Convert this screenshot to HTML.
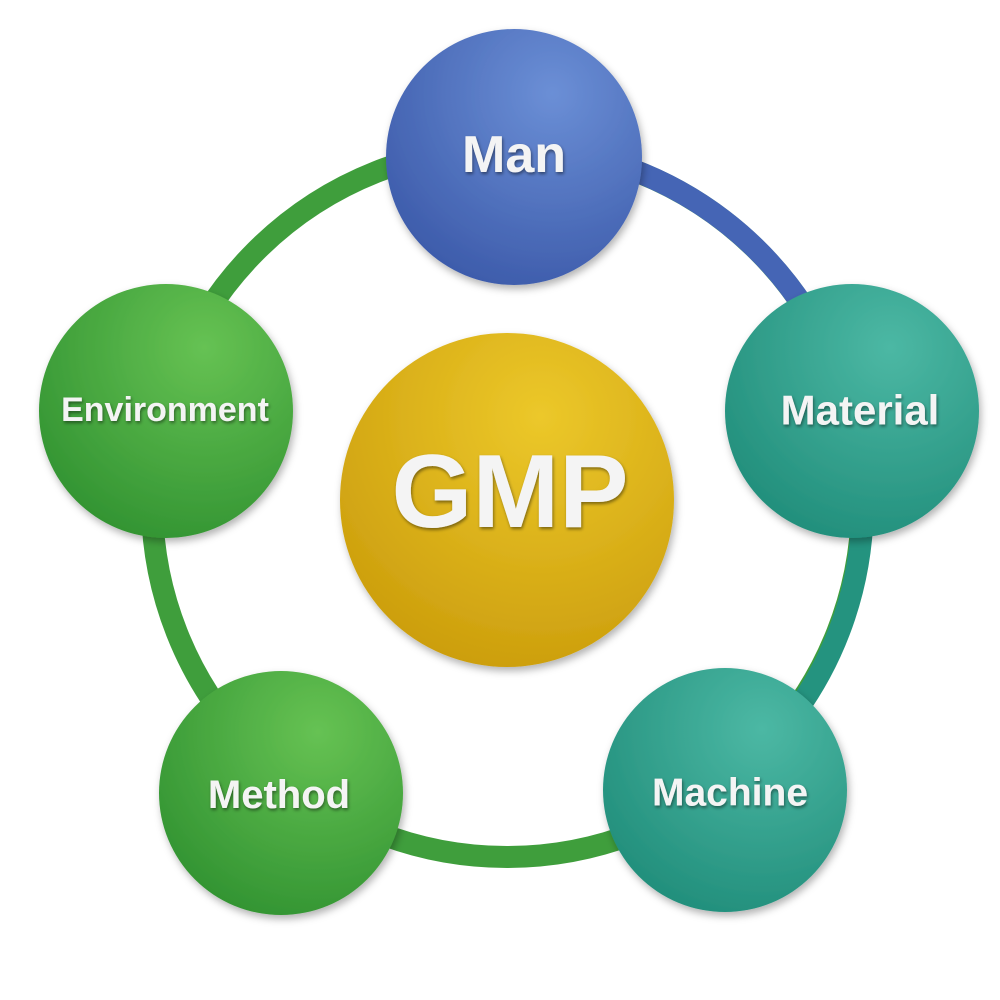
<!DOCTYPE html>
<html><head><meta charset="utf-8"><style>
html,body{margin:0;padding:0;background:#fff}
svg{display:block}
text{font-family:"Liberation Sans",sans-serif;font-weight:bold;fill:#f4f4f4;text-anchor:middle;dominant-baseline:central}
</style></head><body>
<svg width="1000" height="1000" viewBox="0 0 1000 1000">
<defs>
<radialGradient id="gb" cx="0.65" cy="0.25" r="0.85"><stop offset="0" stop-color="#6b8fd6"/><stop offset="1" stop-color="#3a58a8"/></radialGradient>
<radialGradient id="gt" cx="0.65" cy="0.25" r="0.85"><stop offset="0" stop-color="#4cb8a4"/><stop offset="1" stop-color="#1f8c79"/></radialGradient>
<radialGradient id="gg" cx="0.65" cy="0.25" r="0.85"><stop offset="0" stop-color="#66c253"/><stop offset="1" stop-color="#2f9130"/></radialGradient>
<radialGradient id="gy" cx="0.6" cy="0.25" r="0.85"><stop offset="0" stop-color="#ecc82a"/><stop offset="1" stop-color="#c99a0a"/></radialGradient>
<filter id="sh" x="-20%" y="-20%" width="140%" height="140%"><feDropShadow dx="2" dy="4" stdDeviation="4" flood-opacity="0.3"/></filter>
<filter id="ts"><feDropShadow dx="1" dy="2" stdDeviation="1.5" flood-opacity="0.45"/></filter>
</defs>
<circle cx="507" cy="502" r="355" fill="none" stroke="#3f9e3c" stroke-width="22"/>
<path d="M507 147 A355 355 0 0 1 850 410" fill="none" stroke="#4565b5" stroke-width="22"/>
<path d="M850 410 A355 355 0 0 1 725 785" fill="none" stroke="#24937f" stroke-width="22"/>
<g filter="url(#sh)">
<circle cx="514" cy="157" r="128" fill="url(#gb)"/>
<circle cx="852" cy="411" r="127" fill="url(#gt)"/>
<circle cx="725" cy="790" r="122" fill="url(#gt)"/>
<circle cx="281" cy="793" r="122" fill="url(#gg)"/>
<circle cx="166" cy="411" r="127" fill="url(#gg)"/>
<circle cx="507" cy="500" r="167" fill="url(#gy)"/>
</g>
<g filter="url(#ts)">
<text x="514" y="155" font-size="52">Man</text>
<text x="860" y="410" font-size="42">Material</text>
<text x="730" y="793" font-size="39">Machine</text>
<text x="279" y="795" font-size="40">Method</text>
<text x="165" y="410" font-size="34">Environment</text>
<text x="510" y="492" font-size="104">GMP</text>
</g>
</svg>
</body></html>
